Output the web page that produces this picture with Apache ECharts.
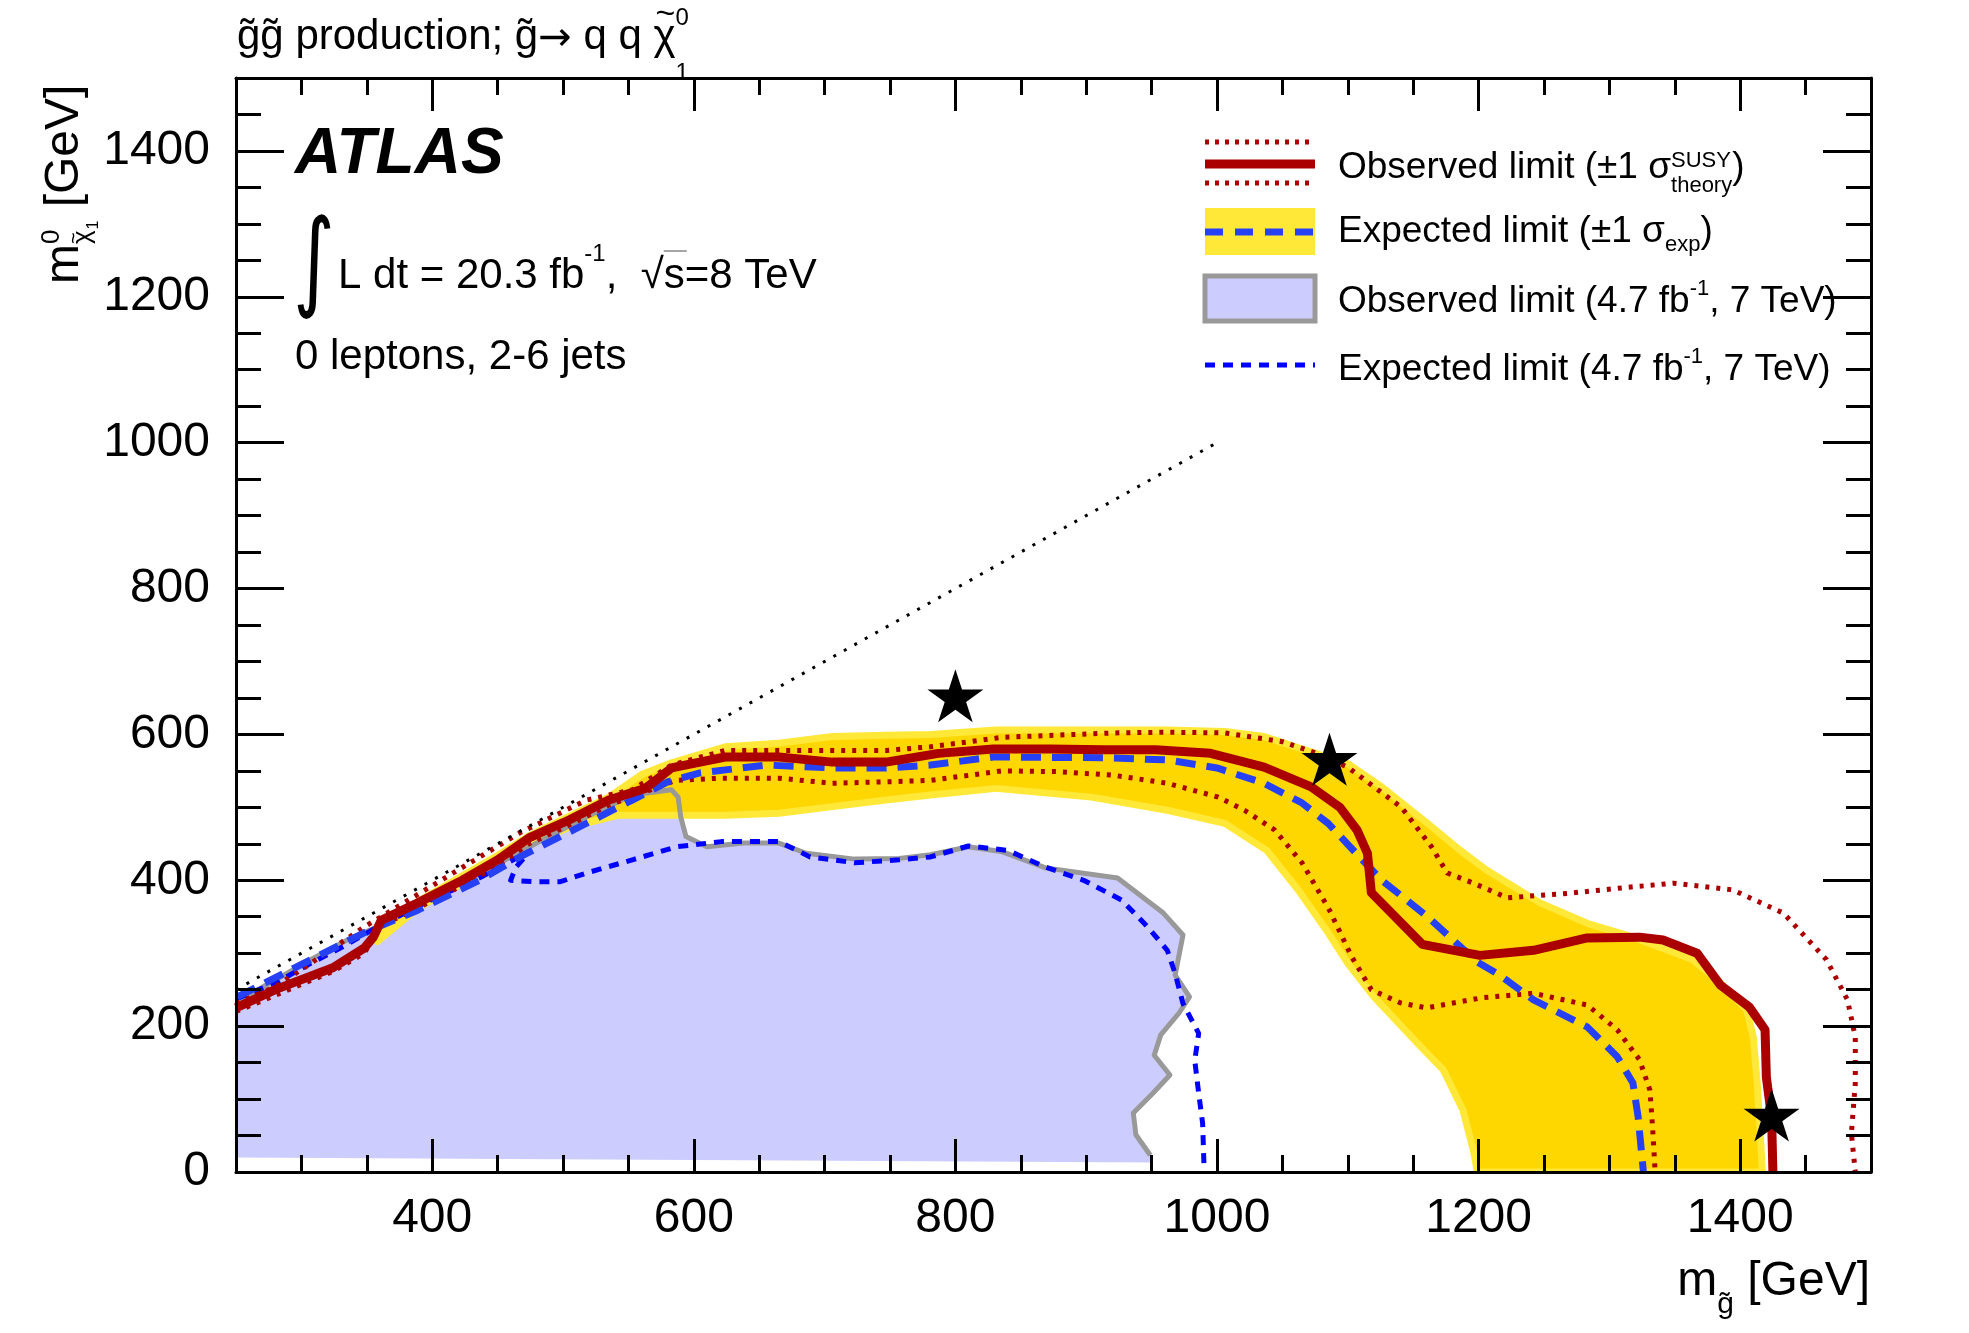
<!DOCTYPE html>
<html><head><meta charset="utf-8">
<script src="https://cdn.jsdelivr.net/npm/echarts@6/dist/echarts.min.js"></script>
<style>html,body{margin:0;padding:0;background:#fff}#c{width:1969px;height:1333px}</style>
</head><body><div id="c"></div>
<script>
// ---------------- data (GeV) ----------------
const xMajorTicks = [400, 600, 800, 1000, 1200, 1400];
const yMajorTicks = [0, 200, 400, 600, 800, 1000, 1200, 1400];

const observedLimit = [[250,225],[280,250],[293,259],[324,280],[348,307],[355,322],[361,345],[389,369],[423,400],[450,428],[474,458],[505,483],[535,510],[563,526],[583,554],[624,569],[665,569],[706,562],[747,562],[787,574],[829,580],[872,580],[913,579],[953,579],[995,574],[1036,555],[1072,528],[1094,500],[1107,469],[1115,437],[1118,383],[1157,312],[1201,297],[1242,304],[1283,321],[1323,322],[1341,318],[1367,300],[1385,256],[1407,226],[1419,195],[1420,130],[1424,75],[1425,0]];

const theoryUp = [[250,231],[280,254],[307,286],[348,336],[416,410],[467,465],[518,510],[553,524],[583,558],[624,578],[665,578],[706,578],[747,578],[781,583],[836,596],[878,599],[921,602],[962,603],[1006,602],[1050,590],[1073,576],[1100,555],[1141,500],[1164,446],[1176,410],[1196,396],[1222,376],[1268,382],[1318,391],[1349,396],[1394,387],[1433,355],[1466,291],[1482,236],[1488,185],[1488,122],[1485,53],[1488,0]];

const theoryDown = [[250,220],[293,252],[324,275],[348,300],[361,338],[389,362],[423,393],[450,420],[474,450],[505,476],[535,503],[573,528],[586,537],[621,540],[665,540],[706,533],[747,535],[781,537],[836,550],[878,549],[921,544],[962,533],[1001,514],[1021,496],[1044,469],[1065,424],[1086,359],[1103,295],[1118,250],[1140,232],[1160,225],[1203,239],[1242,245],[1283,229],[1306,195],[1323,154],[1331,112],[1333,62],[1335,0]];

const expectedLimit = [[251,240],[307,291],[348,328],[389,359],[436,400],[467,432],[508,469],[553,510],[580,535],[604,547],[655,558],[706,554],[747,554],[781,558],[829,569],[913,568],[962,565],[1000,554],[1036,533],[1065,506],[1085,478],[1109,432],[1126,400],[1161,350],[1199,288],[1216,270],[1242,236],[1283,199],[1306,158],[1318,122],[1322,75],[1326,0]];

const expectedBandUpper = [[355,322],[390,372],[423,406],[450,434],[475,462],[505,488],[535,514],[560,545],[583,561],[624,583],[665,588],[706,597],[747,599],[781,600],[831,606],[904,606],[962,606],[1006,604],[1036,597],[1067,579],[1100,560],[1126,528],[1161,478],[1186,441],[1206,414],[1247,369],[1283,341],[1318,322],[1364,291],[1385,259],[1405,222],[1410,185],[1413,122],[1417,0]];
const expectedBandLower = [[1199,0],[1196,30],[1188,85],[1173,140],[1153,177],[1120,240],[1100,286],[1085,328],[1062,387],[1038,441],[1006,478],[962,496],[904,514],[831,526],[781,517],[747,510],[706,501],[665,492],[624,489],[586,489],[542,489],[505,473],[478,452],[450,425],[420,393],[390,363],[358,316]];

const observed7TeV = [[250,234],[280,263],[307,291],[338,321],[358,336],[399,377],[437,410],[484,455],[518,487],[553,517],[583,524],[588,514],[590,487],[594,460],[610,446],[638,451],[665,451],[686,437],[723,429],[757,430],[781,435],[810,446],[836,439],[869,417],[924,403],[959,355],[974,325],[968,270],[979,240],[971,218],[957,188],[952,160],[964,133],[951,108],[936,81],[938,51],[949,23]];
const observed7TeVBase = [[950,13],[250,20]];

const expected7TeV = [[251,238],[280,259],[307,286],[334,311],[358,336],[399,373],[437,404],[464,430],[471,432],[464,418],[460,400],[478,398],[498,398],[518,410],[553,428],[587,446],[621,453],[665,453],[689,432],[723,424],[757,428],[781,432],[810,447],[840,441],[869,418],[898,400],[927,373],[947,336],[962,304],[968,272],[974,231],[986,190],[983,153],[986,108],[989,67],[990,12]];

const kinematicLimit = [[250,250],[1000,1000]];
const benchmarkPoints = [[800,653],[1086,566],[1424,78]];

// ---------------- helpers ----------------
const FONT = 'Liberation Sans';
const BASEK = 0.27;
const mctx = document.createElement('canvas').getContext('2d');
function textWidth(t, s, w, st, fam) {
  mctx.font = (st||'normal') + ' ' + (w||'normal') + ' ' + s + 'px "' + (fam||FONT) + '"';
  return mctx.measureText(t).width;
}
function mathText(parts, x0, base, opt) {
  opt = opt || {};
  const items = []; let cur = 0, stackX = 0;
  parts.forEach(p => {
    const x = p.stack ? stackX + (p.dx || 0) : cur + (p.dx || 0);
    if (!p.stack) stackX = x;
    const w = textWidth(p.t, p.s, p.w, p.i, p.f);
    items.push({p, x, w});
    if (!p.noAdvance) cur = Math.max(cur, x + w);
  });
  const shift = opt.anchor === 'right' ? -cur : 0;
  const els = items.map(({p, x}) => ({
    type: 'text', x: x0 + x + shift, y: base + (p.dy || 0) - BASEK * p.s, silent: true, z: 50,
    style: {text: p.t, fontSize: p.s, fontFamily: p.f || FONT, fontWeight: p.w || 'normal',
      fontStyle: p.i || 'normal', fill: opt.color || '#000', align: 'left', verticalAlign: 'middle'}
  }));
  return {els, items: items.map(it => ({x: x0 + it.x + shift, w: it.w})), width: cur};
}

// star marker path
let sp = '';
for (let k = 0; k < 10; k++) {
  const a = -Math.PI / 2 + k * Math.PI / 5, r = (k % 2) ? 38.2 : 100;
  sp += (k ? 'L' : 'M') + (r * Math.cos(a)).toFixed(2) + ' ' + (r * Math.sin(a)).toFixed(2) + ' ';
}
sp += 'Z';

function polygonSeries(name, pts, style, z) {
  return {
    type: 'custom', name, coordinateSystem: 'cartesian2d', xAxisIndex: 0, yAxisIndex: 0, clip: true, z,
    data: pts, silent: true,
    renderItem: (params, api) => params.dataIndex === 0 ? {
      type: 'polygon', shape: {points: pts.map(p => api.coord(p))}, style
    } : null
  };
}
function lineSeries(name, pts, color, width, dash, z) {
  return {type: 'line', name, data: pts, xAxisIndex: 0, yAxisIndex: 0, showSymbol: false, symbol: 'none',
    clip: true, z, silent: true, lineStyle: {color, width, type: dash || 'solid', cap: 'butt', join: 'round'}};
}

const plainNum = v => String(v);
function xAx(pos, major) {
  const a = {type: 'value', min: 250, max: 1500, position: pos, z: 20,
    axisLine: {show: major, onZero: false, lineStyle: {color: '#000', width: 3}},
    axisTick: {show: true, inside: true, length: major ? 33 : 17, lineStyle: {color: '#000', width: 3}},
    axisLabel: {show: major && pos === 'bottom', margin: 23, fontSize: 48, fontFamily: FONT, color: '#000', formatter: plainNum},
    splitLine: {show: false}};
  if (major) { a.axisTick.customValues = xMajorTicks; a.axisLabel.customValues = xMajorTicks; }
  else a.interval = 50;
  return a;
}
function yAx(pos, major) {
  const a = {type: 'value', min: 0, max: 1500, position: pos, z: 20,
    axisLine: {show: major, onZero: false, lineStyle: {color: '#000', width: 3}},
    axisTick: {show: true, inside: true, length: major ? 48 : 25, lineStyle: {color: '#000', width: 3}},
    axisLabel: {show: major && pos === 'left', margin: 26, fontSize: 48, fontFamily: FONT, color: '#000', formatter: plainNum},
    splitLine: {show: false}};
  if (major) { a.axisTick.customValues = yMajorTicks; a.axisLabel.customValues = yMajorTicks; }
  else a.interval = 50;
  return a;
}

// ---------------- texts ----------------
const G = [];
const gt = 'g\u0303';
G.push(...mathText([{t: gt + gt + ' production; ' + gt, s: 42}, {t: '\u2192', s: 40, f: 'DejaVu Sans', dy: 1},
  {t: ' q q ', s: 42}, {t: '\u03c7', s: 42}, {t: '~', s: 34, dy: -25, stack: true, dx: 2, noAdvance: true},
  {t: '0', s: 24, dy: -24}, {t: '1', s: 24, dy: 31, stack: true}], 237, 49).els);
G.push(...mathText([{t: 'ATLAS', s: 64, w: 'bold', i: 'italic'}], 295, 173).els);
G.push({type: 'text', x: 293, y: 268, z: 50, silent: true, scaleY: 1.35,
  style: {text: '\u222b', fontSize: 80, fontFamily: 'DejaVu Sans', fill: '#000', align: 'left', verticalAlign: 'middle'}});
const lumi = mathText([{t: 'L dt = 20.3 fb', s: 42}, {t: '-1', s: 24, dy: -27}, {t: ',  ', s: 42},
  {t: '\u221a', s: 42}, {t: 's', s: 42}, {t: '=8 TeV', s: 42}], 338, 288);
G.push(...lumi.els);
G.push({type: 'line', z: 50, silent: true, shape: {x1: lumi.items[4].x, y1: 251, x2: lumi.items[4].x + lumi.items[4].w + 2, y2: 251},
  style: {stroke: '#888', lineWidth: 1.5}});
G.push(...mathText([{t: '0 leptons, 2-6 jets', s: 42}], 295, 369).els);

// axis names
G.push(...mathText([{t: 'm', s: 48}, {t: gt, s: 30, dy: 18}, {t: ' [GeV]', s: 48}], 1870, 1295, {anchor: 'right'}).els);
const yName = mathText([{t: 'm', s: 48}, {t: '0', s: 26, dy: -19}, {t: '\u03c7', s: 26, dy: 12, stack: true},
  {t: '~', s: 20, dy: 2, stack: true, noAdvance: true}, {t: '1', s: 16, dy: 20}, {t: ' [GeV]', s: 48}], 0, 0);
G.push({type: 'group', x: 78, y: 284, rotation: Math.PI / 2, z: 50, children: yName.els});

// legend
const LX0 = 1205, LX1 = 1315, TX = 1338;
G.push({type: 'line', z: 50, silent: true, shape: {x1: LX0, y1: 142, x2: LX1, y2: 142}, style: {stroke: '#aa0000', lineWidth: 5, lineDash: [4, 6]}});
G.push({type: 'line', z: 50, silent: true, shape: {x1: LX0, y1: 183, x2: LX1, y2: 183}, style: {stroke: '#aa0000', lineWidth: 5, lineDash: [4, 6]}});
G.push({type: 'line', z: 50, silent: true, shape: {x1: LX0, y1: 164, x2: LX1, y2: 164}, style: {stroke: '#aa0000', lineWidth: 9}});
G.push({type: 'rect', z: 50, silent: true, shape: {x: LX0, y: 208, width: LX1 - LX0, height: 47}, style: {fill: '#ffe838'}});
G.push({type: 'line', z: 51, silent: true, shape: {x1: LX0, y1: 232, x2: LX1, y2: 232}, style: {stroke: '#2640f5', lineWidth: 7, lineDash: [18, 12]}});
G.push({type: 'rect', z: 50, silent: true, shape: {x: LX0, y: 276, width: LX1 - LX0, height: 45}, style: {fill: '#ccccff', stroke: '#999999', lineWidth: 5}});
G.push({type: 'line', z: 50, silent: true, shape: {x1: LX0, y1: 365, x2: LX1, y2: 365}, style: {stroke: '#0000ff', lineWidth: 5, lineDash: [10, 8]}});
G.push(...mathText([{t: 'Observed limit (\u00b11 \u03c3', s: 37}, {t: 'SUSY', s: 22, dy: -11},
  {t: 'theory', s: 22, dy: 14, stack: true}, {t: ')', s: 37}], TX, 178).els);
G.push(...mathText([{t: 'Expected limit (\u00b11 \u03c3', s: 37}, {t: 'exp', s: 22, dy: 9}, {t: ')', s: 37}], TX, 242).els);
G.push(...mathText([{t: 'Observed limit (4.7 fb', s: 37}, {t: '-1', s: 22, dy: -17}, {t: ', 7 TeV)', s: 37}], TX, 312).els);
G.push(...mathText([{t: 'Expected limit (4.7 fb', s: 37}, {t: '-1', s: 22, dy: -17}, {t: ', 7 TeV)', s: 37}], TX, 380).els);

// ---------------- chart ----------------
const chart = echarts.init(document.getElementById('c'), null, {renderer: 'canvas', width: 1969, height: 1333});
chart.setOption({
  animation: false,
  backgroundColor: '#ffffff',
  textStyle: {fontFamily: FONT},
  grid: {left: 236, right: 98, top: 78, bottom: 161, containLabel: false},
  xAxis: [xAx('bottom', true), xAx('bottom', false), xAx('top', true), xAx('top', false)],
  yAxis: [yAx('left', true), yAx('left', false), yAx('right', true), yAx('right', false)],
  series: [
    polygonSeries('Observed limit 7 TeV area', observed7TeV.concat(observed7TeVBase), {fill: '#ccccff'}, 1),
    polygonSeries('Expected band', expectedBandUpper.concat(expectedBandLower), {fill: '#ffd700', stroke: '#ffe838', lineWidth: 7, lineJoin: 'round'}, 2),
    lineSeries('Observed limit (4.7 fb-1, 7 TeV)', observed7TeV, '#999999', 5, 'solid', 3),
    lineSeries('Expected limit (4.7 fb-1, 7 TeV)', expected7TeV, '#0000ff', 5, [10, 8], 4),
    lineSeries('Theory +1 sigma', theoryUp, '#aa0000', 5, [4, 7], 5),
    lineSeries('Theory -1 sigma', theoryDown, '#aa0000', 5, [4, 7], 5),
    lineSeries('Expected limit', expectedLimit, '#2640f5', 7, [20, 11], 6),
    lineSeries('Observed limit', observedLimit, '#aa0000', 9, 'solid', 7),
    lineSeries('Kinematic limit', kinematicLimit, '#000000', 3, [3, 9], 8),
    {type: 'scatter', name: 'Benchmarks', data: benchmarkPoints, symbol: 'path://' + sp, symbolSize: [56, 53],
      itemStyle: {color: '#000', opacity: 1}, z: 9, silent: true}
  ],
  graphic: G
});
</script>
</body></html>
